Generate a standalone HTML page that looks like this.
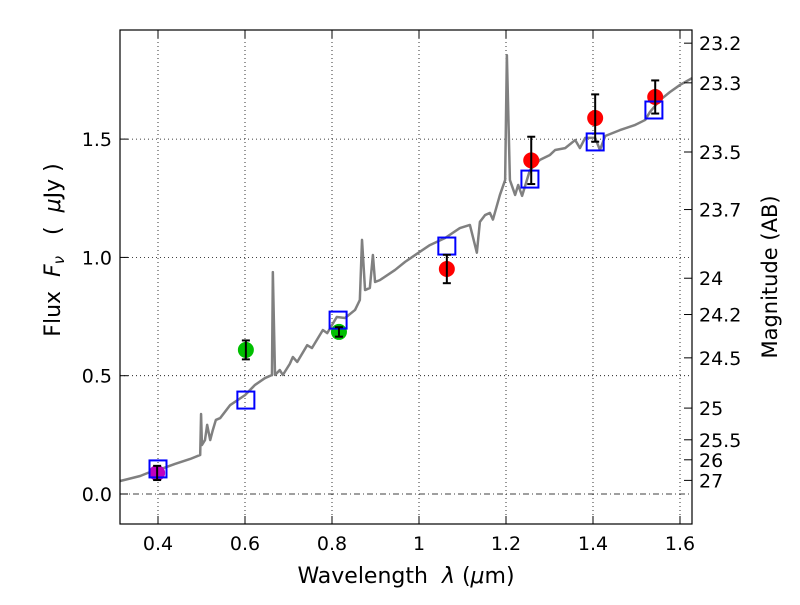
<!DOCTYPE html>
<html><head><meta charset="utf-8"><style>
body{margin:0;background:#fff;}
svg{font-family:"DejaVu Sans","Liberation Sans",sans-serif;}
</style></head><body>
<svg id="chart" width="800" height="600" viewBox="0 0 800 600">
<rect width="800" height="600" fill="#fff"/>
<g id="grid"></g>
<g id="spec"></g>
<g id="marks"></g>
<rect x="120" y="30" width="572" height="494" fill="none" stroke="#000" stroke-width="1.2"/>
<g id="axes"></g>
<text x="406" y="583" font-size="22" text-anchor="middle" xml:space="preserve">Wavelength  <tspan font-style="italic">λ</tspan> (<tspan font-style="italic">μ</tspan>m)</text>
<text transform="translate(60,250) rotate(-90)" font-size="22" text-anchor="middle" xml:space="preserve">Flux  <tspan font-style="italic">F</tspan><tspan font-style="italic" font-size="15" dy="4">ν</tspan><tspan dy="-4">   (  </tspan><tspan font-style="italic">μ</tspan>Jy )</text>
<text transform="translate(777,277) rotate(-90)" font-size="21" text-anchor="middle">Magnitude (AB)</text>
</svg>
<script>
const specWl=[0.313,0.359,0.382,0.4,0.439,0.474,0.497,0.499,0.501,0.508,0.513,0.520,0.526,0.533,0.543,0.566,0.600,0.623,0.646,0.662,0.664,0.669,0.680,0.687,0.703,0.710,0.720,0.743,0.754,0.779,0.789,0.811,0.830,0.853,0.864,0.869,0.876,0.887,0.894,0.899,0.910,0.945,0.968,0.991,1.025,1.060,1.094,1.117,1.133,1.140,1.152,1.163,1.170,1.186,1.198,1.202,1.209,1.221,1.228,1.237,1.255,1.278,1.301,1.313,1.336,1.359,1.370,1.382,1.405,1.416,1.428,1.462,1.497,1.520,1.531,1.554,1.577,1.600,1.628];
const specFlux=[0.055,0.076,0.093,0.101,0.127,0.148,0.165,0.338,0.207,0.228,0.292,0.228,0.270,0.313,0.321,0.376,0.418,0.461,0.490,0.503,0.938,0.503,0.524,0.503,0.550,0.579,0.558,0.629,0.617,0.693,0.680,0.748,0.744,0.778,0.820,1.074,0.862,0.871,1.010,0.896,0.904,0.947,0.981,1.010,1.052,1.082,1.124,1.137,1.020,1.150,1.179,1.188,1.160,1.264,1.327,1.855,1.327,1.264,1.306,1.260,1.369,1.412,1.433,1.454,1.462,1.496,1.462,1.505,1.505,1.454,1.513,1.538,1.560,1.581,1.615,1.665,1.699,1.729,1.758];
const obsWl=[0.398,0.602,0.816,1.064,1.258,1.405,1.543];
const obsFlux=[0.089,0.609,0.685,0.951,1.41,1.589,1.678];
const obsErr=[0.03,0.04,0.02,0.06,0.1,0.1,0.07];
const obsColor=['#bf00bf','#00bf00','#00bf00','#ff0000','#ff0000','#ff0000','#ff0000'];
const modWl=[0.40,0.602,0.814,1.064,1.255,1.405,1.54];
const modFlux=[0.106,0.397,0.735,1.048,1.331,1.488,1.623];
const xTicks=[0.4,0.6,0.8,1.0,1.2,1.4,1.6];
const xTickLabels=['0.4','0.6','0.8','1','1.2','1.4','1.6'];
const yTicks=[0,0.5,1.0,1.5];
const yTickLabels=['0.0','0.5','1.0','1.5'];
const magTicks=[23.2,23.3,23.5,23.7,24,24.2,24.5,25,25.5,26,27];

const NS='http://www.w3.org/2000/svg';
const X=v=>158+(v-0.4)*435;
const Y=v=>494-v*236.6;
const magY=m=>Y(Math.pow(10,(23.9-m)/2.5));
function mk(t,a,p){const e=document.createElementNS(NS,t);for(const k in a)e.setAttribute(k,a[k]);p.appendChild(e);return e;}
const grid=document.getElementById('grid'),axes=document.getElementById('axes'),spec=document.getElementById('spec'),marks=document.getElementById('marks');
xTicks.forEach((v,i)=>{
 const g=mk('line',{x1:X(v),x2:X(v),y1:30,y2:524,stroke:'#000','stroke-width':0.8,'stroke-dasharray':'1,3'},grid);
 
 
 mk('line',{x1:X(v),x2:X(v),y1:524,y2:516,stroke:'#000'},axes);
 mk('line',{x1:X(v),x2:X(v),y1:30,y2:38,stroke:'#000'},axes);
 const t=mk('text',{x:X(v),y:550,'font-size':19,'text-anchor':'middle'},axes);t.textContent=xTickLabels[i];
 
 
});
yTicks.forEach((v,i)=>{
 const g=mk('line',{x1:120,x2:692,y1:Y(v),y2:Y(v),stroke:'#000','stroke-width':0.8,'stroke-dasharray':v===0?'6,3,1,3':'1,3'},grid);
 
 
 mk('line',{x1:120,x2:128,y1:Y(v),y2:Y(v),stroke:'#000'},axes);
 const t=mk('text',{x:112,y:Y(v)+7,'font-size':19,'text-anchor':'end'},axes);t.textContent=yTickLabels[i];
 
 
});
magTicks.forEach(m=>{
 mk('line',{x1:692,x2:684,y1:magY(m),y2:magY(m),stroke:'#000'},axes);
 const t=mk('text',{x:699,y:magY(m)+7,'font-size':19},axes);t.textContent=String(m);
 
 
});
const sp=mk('polyline',{points:specWl.map((w,i)=>X(w)+','+Y(specFlux[i])).join(' '),fill:'none',stroke:'#808080','stroke-width':2.5,'stroke-linejoin':'round'},spec);


obsWl.forEach((w,i)=>{
 const c=mk('circle',{cx:X(w),cy:Y(obsFlux[i]),r:8,fill:obsColor[i]},marks);
 
 
});
modWl.forEach((w,i)=>{
 const r=mk('rect',{x:X(w)-8.5,y:Y(modFlux[i])-8.5,width:17,height:17,fill:'none',stroke:'#0000ff','stroke-width':2},marks);
 
 
});
obsWl.forEach((w,i)=>{
 const g=mk('g',{stroke:'#000','stroke-width':2},marks);
 
 
 const x=X(w),y1=Y(obsFlux[i]-obsErr[i]),y2=Y(obsFlux[i]+obsErr[i]);
 mk('line',{x1:x,x2:x,y1:y1,y2:y2},g);
 mk('line',{x1:x-4,x2:x+4,y1:y1,y2:y1},g);
 mk('line',{x1:x-4,x2:x+4,y1:y2,y2:y2},g);
});
</script>
</body></html>
